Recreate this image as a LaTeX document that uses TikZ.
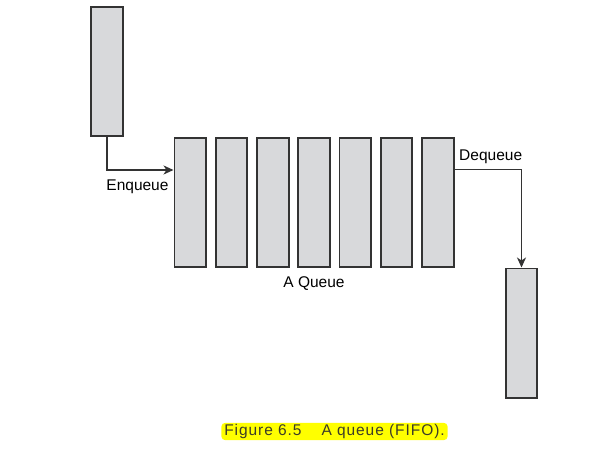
\documentclass[tikz,border=0pt]{standalone}
\usepackage{fontspec}
\setmainfont{Liberation Sans}
\usetikzlibrary{arrows.meta,positioning}
\definecolor{CellGray}{HTML}{D8D9DB}
\definecolor{CellLine}{HTML}{333333}
\definecolor{MarkYellow}{HTML}{FFFF00}
\definecolor{CaptionInk}{HTML}{3C3C28}

\begin{document}
\begin{tikzpicture}[
  x=1pt,y=1pt,
  font=\fontsize{15.5}{18}\selectfont,
  cell/.style={draw=CellLine,fill=CellGray,line width=1.8pt,
    minimum width=31.7pt,minimum height=129.2pt,inner sep=0pt},
  flow/.style={-{Stealth[length=10pt,width=9pt,inset=3pt]},
    draw=CellLine,line width=1.8pt},
  label/.style={inner sep=2pt},
  caption/.style={fill=MarkYellow,rounded corners=4pt,text=CaptionInk,
    inner xsep=3pt,inner ysep=1.5pt}
]
  \useasboundingbox (0,0) rectangle (609,-462);
  % element waiting to join
  \node[cell] (incoming) at (106.75,-71.5) {};
  % the queue itself
  \node[cell] (q1) at (190.25,-202.5) {};
  \node[cell,right=7.75pt of q1] (q2) {};
  \node[cell,right=7.75pt of q2] (q3) {};
  \node[cell,right=7.75pt of q3] (q4) {};
  \node[cell,right=7.75pt of q4] (q5) {};
  \node[cell,right=7.75pt of q5] (q6) {};
  \node[cell,right=7.75pt of q6] (q7) {};
  % element leaving
  \node[cell] (outgoing) at (521.5,-333) {};

  \draw[flow] (incoming.south) |- node[label,below=7pt,pos=0.73]{Enqueue}
    ([yshift=32.5pt]q1.west);
  \draw[flow] ([yshift=33pt]q7.east) -| node[label,above=3pt,pos=0.27]{Dequeue}
    (outgoing.north);

  \node[below=5pt of q4] (qname) {A Queue};
  \node[caption] (caption) at (334.5,-431.5)
    {\addfontfeatures{LetterSpace=6}Figure 6.5\hspace{20pt}A queue (FIFO).};
\end{tikzpicture}
\end{document}
